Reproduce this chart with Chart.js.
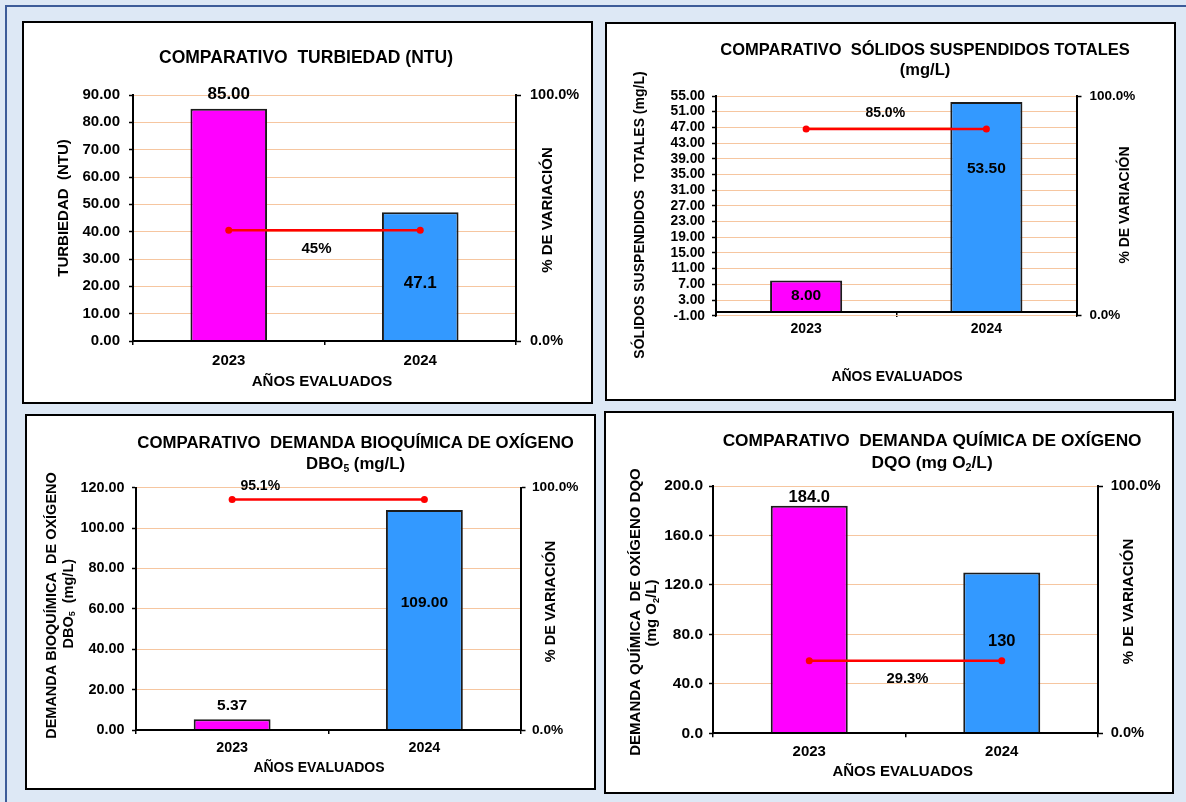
<!DOCTYPE html>
<html>
<head>
<meta charset="utf-8">
<script src="https://cdn.jsdelivr.net/npm/chart.js@4.4.1/dist/chart.umd.min.js"></script>
<style>
  html, body { margin: 0; padding: 0; }
  body {
    width: 1186px; height: 802px; position: relative; overflow: hidden;
    background: #dde8f5;
    font-family: 'Liberation Sans', Arial, sans-serif;
  }
  #frame {
    position: absolute; left: 5px; top: 5px; width: 1300px; height: 900px;
    border-left: 2px solid #3d5c99; border-top: 2px solid #3d5c99;
  }
  .panel {
    position: absolute; box-sizing: border-box;
    border: 2px solid #000; background: #fff;
  }
  .panel canvas { position: absolute; left: 0; top: 0; }
</style>
</head>
<body>
<div id="frame"></div>
<script>
// ---- data ----
const years = ['2023', '2024'];
const barColors = ['#ff00ff', '#3399ff'];

const turbiedad = [85.00, 47.1];
const turbiedadDecimals = [2, 1];
const turbiedadVariacion = 0.45;

const solidos = [8.00, 53.50];
const solidosDecimals = [2, 2];
const solidosVariacion = 0.850;

const dbo = [5.37, 109.00];
const dboDecimals = [2, 2];
const dboVariacion = 0.951;

const dqo = [184.0, 130];
const dqoDecimals = [1, 0];
const dqoVariacion = 0.293;

// ---- shared drawing helpers ----
const FONT = "'Liberation Sans', Arial, sans-serif";
Chart.defaults.font.family = FONT;
Chart.defaults.font.weight = 'bold';
Chart.defaults.color = '#000';
Chart.defaults.animation = false;

// Text with "_n" marking a subscript digit (DBO_5, O_2)
function richText(ctx, text, x, y, size) {
  const parts = text.split(/_(\d)/);
  const fN = `bold ${size}px ${FONT}`;
  const fS = `bold ${size * 0.62}px ${FONT}`;
  let w = 0;
  parts.forEach((p, i) => { ctx.font = i % 2 ? fS : fN; w += ctx.measureText(p).width; });
  let cx = x - w / 2;
  ctx.textAlign = 'left';
  parts.forEach((p, i) => {
    ctx.font = i % 2 ? fS : fN;
    ctx.fillText(p, cx, i % 2 ? y + size * 0.28 : y);
    cx += ctx.measureText(p).width;
  });
}

function rotatedText(ctx, text, x, y, size) {
  ctx.save();
  ctx.translate(x, y);
  ctx.rotate(-Math.PI / 2);
  richText(ctx, text, 0, 0, size);
  ctx.restore();
}

const panelText = {
  id: 'panelText',
  afterDraw(chart, args, o) {
    const ctx = chart.ctx;
    const ox = o.origin[0], oy = o.origin[1];
    ctx.save();
    ctx.fillStyle = '#000';
    ctx.textBaseline = 'middle';

    // value labels on the bars
    const bars = chart.getDatasetMeta(0).data;
    bars.forEach((b, i) => {
      const v = chart.data.datasets[0].data[i];
      richText(ctx, v.toFixed(o.decimals[i]), b.x, b.y + o.barLabel.dy[i], o.barLabel.size);
    });

    // variation label next to the line
    const pts = chart.getDatasetMeta(1).data;
    const v = chart.data.datasets[1].data[0];
    const mx = (pts[0].x + pts[1].x) / 2;
    richText(ctx, (v * 100).toFixed(o.varDecimals) + '%', mx + o.varLabel.dx, pts[0].y + o.varLabel.dy, o.varLabel.size);

    // chart title
    o.title.lines.forEach((t, i) => richText(ctx, t, o.title.x - ox, o.title.y[i] - oy, o.title.size));
    // axis titles
    o.yTitle.lines.forEach((t, i) => rotatedText(ctx, t, o.yTitle.x[i] - ox, o.yTitle.y[i] - oy, o.yTitle.size));
    rotatedText(ctx, '% DE VARIACIÓN', o.rTitle.x - ox, o.rTitle.y - oy, o.rTitle.size);
    richText(ctx, 'AÑOS EVALUADOS', o.xTitle.x - ox, o.xTitle.y - oy, o.xTitle.size);
    ctx.restore();
  }
};

function build(spec) {
  const [px, py, pw, ph] = spec.panel;
  const div = document.createElement('div');
  div.className = 'panel';
  Object.assign(div.style, { left: px + 'px', top: py + 'px', width: pw + 'px', height: ph + 'px' });
  const cv = document.createElement('canvas');
  const cw = pw - 4, chh = ph - 4;
  cv.width = cw; cv.height = chh;
  cv.style.width = cw + 'px'; cv.style.height = chh + 'px';
  div.appendChild(cv);
  document.body.appendChild(div);

  const ox = px + 2, oy = py + 2;
  const left = spec.area[0] - ox, top = spec.area[1] - oy;
  const right = spec.area[2] - ox, bottom = spec.area[3] - oy;
  // an axis pinned to a value does not reserve room in the layout,
  // so the space under the plot comes from padding in that case
  const pinned = spec.xAt !== null;

  new Chart(cv, {
    type: 'bar',
    data: {
      labels: years,
      datasets: [
        {
          type: 'bar', data: spec.values, yAxisID: 'y', order: 2,
          backgroundColor: barColors, borderColor: '#1c1c1c', borderWidth: 2,
          barPercentage: 0.4, categoryPercentage: 1
        },
        {
          type: 'line', data: [spec.variation, spec.variation], yAxisID: 'y1', order: 1,
          borderColor: '#ff0000', borderWidth: 2.5,
          pointRadius: 3.5, pointBackgroundColor: '#ff0000', pointBorderColor: '#ff0000', pointBorderWidth: 0
        }
      ]
    },
    options: {
      responsive: false, devicePixelRatio: 1, animation: false,
      layout: { padding: { left: 0, top: top, right: 0, bottom: pinned ? chh - bottom : 0 } },
      events: [],
      plugins: {
        legend: { display: false },
        tooltip: { enabled: false },
        panelText: {
          origin: [ox, oy], decimals: spec.decimals, varDecimals: spec.varDecimals,
          barLabel: spec.barLabel, varLabel: spec.varLabel,
          title: spec.title, yTitle: spec.yTitle, rTitle: spec.rTitle, xTitle: spec.xTitle
        }
      },
      scales: {
        x: {
          position: pinned ? { y: spec.xAt } : 'bottom',
          grid: { display: true, drawOnChartArea: false, drawTicks: true, tickLength: 4, color: '#000', tickColor: '#000', lineWidth: 1.5 },
          border: { display: true, color: '#000', width: 2, z: 1 },
          ticks: { font: { size: spec.ticks.x }, padding: spec.pads.x, color: '#000', maxRotation: 0, autoSkip: false },
          afterFit: s => { s.height = pinned ? 0 : chh - bottom; }
        },
        y: {
          position: 'left', min: spec.yMin, max: spec.yMax,
          ticks: { stepSize: spec.yStep, autoSkip: false, callback: v => Number(v).toFixed(spec.yDec), font: { size: spec.ticks.y }, padding: spec.pads.y, color: '#000' },
          grid: { color: '#f6c6a0', lineWidth: 1, tickColor: '#000', tickLength: 4, tickWidth: 1.5 },
          border: { display: true, color: '#000', width: 2, z: 1 },
          afterFit: s => { s.width = left; }
        },
        y1: {
          position: 'right', min: 0, max: 1,
          ticks: { stepSize: 1, callback: v => (v * 100).toFixed(1) + '%', font: { size: spec.ticks.r }, padding: spec.pads.r, color: '#000' },
          grid: { drawOnChartArea: false, tickColor: '#000', tickLength: 5, tickWidth: 1.5 },
          border: { display: true, color: '#000', width: 2, z: 1 },
          afterFit: s => { s.width = cw - right; }
        }
      }
    },
    plugins: [panelText]
  });
}

// ---- the four panels ----
build({
  panel: [22, 21, 571, 383], area: [133, 95, 516, 341],
  values: turbiedad, decimals: turbiedadDecimals, variation: turbiedadVariacion, varDecimals: 0,
  yMin: 0, yMax: 90, yStep: 10, yDec: 2, xAt: null,
  ticks: { y: 15, x: 15, r: 14.5 }, pads: { y: 9, x: 7, r: 9 },
  barLabel: { dy: [-14.5, 71], size: 17 }, varLabel: { dx: -8, dy: 19, size: 15 },
  title: { lines: ['COMPARATIVO  TURBIEDAD (NTU)'], x: 306, y: [58], size: 17.5 },
  yTitle: { lines: ['TURBIEDAD  (NTU)'], x: [64], y: [208], size: 15 },
  rTitle: { x: 548, y: 210, size: 15 },
  xTitle: { x: 322, y: 381.5, size: 15 }
});

build({
  panel: [605, 22, 571, 379], area: [716, 96, 1076.5, 315.7],
  values: solidos, decimals: solidosDecimals, variation: solidosVariacion, varDecimals: 1,
  yMin: -1, yMax: 55, yStep: 4, yDec: 2, xAt: 0,
  ticks: { y: 13.8, x: 14, r: 13.5 }, pads: { y: 7, x: 5, r: 8 },
  barLabel: { dy: [15, 67], size: 15.5 }, varLabel: { dx: -11, dy: -15.6, size: 14 },
  title: { lines: ['COMPARATIVO  SÓLIDOS SUSPENDIDOS TOTALES', '(mg/L)'], x: 925, y: [50, 70.7], size: 16.5 },
  yTitle: { lines: ['SÓLIDOS SUSPENDIDOS  TOTALES (mg/L)'], x: [640.4], y: [215], size: 14 },
  rTitle: { x: 1125, y: 205, size: 14 },
  xTitle: { x: 897, y: 376.7, size: 14 }
});

build({
  panel: [25, 414, 571, 376], area: [136, 487.7, 520.5, 730],
  values: dbo, decimals: dboDecimals, variation: dboVariacion, varDecimals: 1,
  yMin: 0, yMax: 120, yStep: 20, yDec: 2, xAt: null,
  ticks: { y: 14.4, x: 14.3, r: 13.7 }, pads: { y: 7.5, x: 5.7, r: 6.5 },
  barLabel: { dy: [-13, 92.6], size: 15.5 }, varLabel: { dx: -68, dy: -13, size: 14 },
  title: { lines: ['COMPARATIVO  DEMANDA BIOQUÍMICA DE OXÍGENO', 'DBO_5 (mg/L)'], x: 355.6, y: [443.3, 464.3], size: 16.8 },
  yTitle: { lines: ['DEMANDA BIOQUÍMICA  DE OXÍGENO', 'DBO_5  (mg/L)'], x: [51.7, 68.9], y: [605.5, 603.7], size: 14.5 },
  rTitle: { x: 551, y: 601.5, size: 14.5 },
  xTitle: { x: 319, y: 767.7, size: 14 }
});

build({
  panel: [604, 411, 570, 383], area: [713, 486, 1098, 733.3],
  values: dqo, decimals: dqoDecimals, variation: dqoVariacion, varDecimals: 1,
  yMin: 0, yMax: 200, yStep: 40, yDec: 1, xAt: null,
  ticks: { y: 15.5, x: 15, r: 14.7 }, pads: { y: 6, x: 5.4, r: 7.7 },
  barLabel: { dy: [-8.7, 69], size: 16.5 }, varLabel: { dx: 2, dy: 18, size: 14.8 },
  title: { lines: ['COMPARATIVO  DEMANDA QUÍMICA DE OXÍGENO', 'DQO (mg O_2/L)'], x: 932.1, y: [441.3, 463.3], size: 17.3 },
  yTitle: { lines: ['DEMANDA QUÍMICA  DE OXÍGENO DQO', '(mg O_2/L)'], x: [635.5, 652.3], y: [612, 613], size: 15 },
  rTitle: { x: 1128.8, y: 601.5, size: 15 },
  xTitle: { x: 902.7, y: 771.7, size: 15 }
});
</script>
</body>
</html>
